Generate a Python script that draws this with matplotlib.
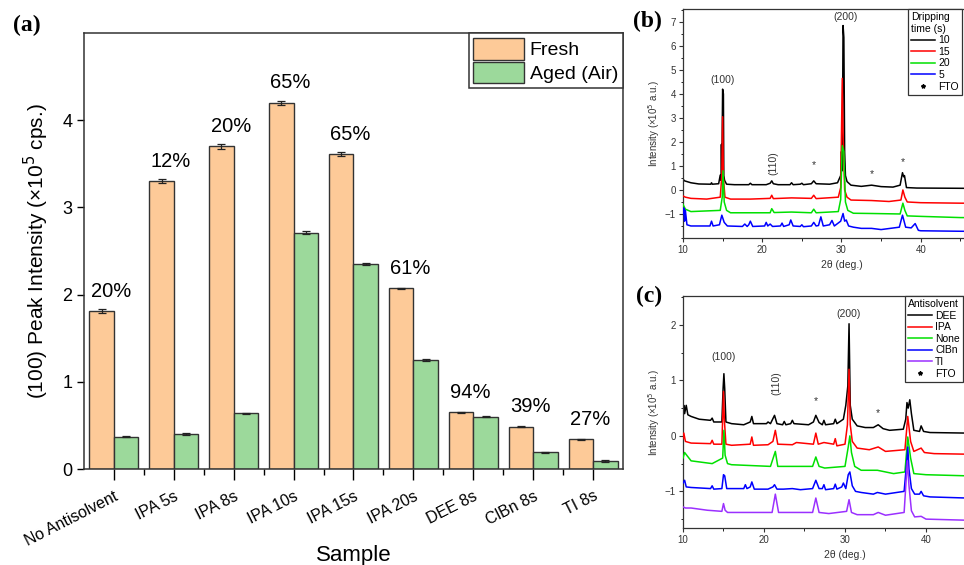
#!/usr/bin/env python3
import matplotlib
matplotlib.use('Agg')
import matplotlib.pyplot as plt
import numpy as np
from matplotlib.lines import Line2D
from matplotlib.ticker import MultipleLocator

plt.rcParams['font.family'] = ['Liberation Sans', 'DejaVu Sans']

# %%
# panel (a) data
samples = ['No Antisolvent', 'IPA 5s', 'IPA 8s', 'IPA 10s', 'IPA 15s',
           'IPA 20s', 'DEE 8s', 'ClBn 8s', 'TI 8s']
fresh = [1.81, 3.30, 3.70, 4.20, 3.61, 2.07, 0.65, 0.485, 0.34]
aged = [0.37, 0.40, 0.64, 2.71, 2.35, 1.25, 0.60, 0.19, 0.09]
fresh_err = [0.02, 0.025, 0.025, 0.025, 0.025, 0.01, 0.006, 0.008, 0.008]
aged_err = [0.008, 0.008, 0.006, 0.015, 0.015, 0.01, 0.006, 0.004, 0.008]
retention = ['20%', '12%', '20%', '65%', '65%', '61%', '94%', '39%', '27%']

# panel (b) data: dripping time
b_10_x = [10.0, 10.2, 11, 12, 13.5, 13.6, 13.7, 14.5, 14.7, 14.8, 14.85, 14.9, 15.0, 15.1, 15.15, 15.25, 15.5, 16.5,
          18.3, 18.5, 18.7, 20.5, 21.0, 21.2, 21.4, 22, 23.5, 23.7, 23.9, 24.8, 25, 25.2, 26.2, 26.5, 26.8, 28.5,
          29.5, 29.9, 30.0, 30.1, 30.2, 30.3, 30.4, 30.5, 30.7, 31.2, 32.5, 33.8, 35, 36.5, 37.4, 37.6, 37.7,
          37.85, 37.95, 38.2, 39.5, 45, 50]
b_10_y = [0.45, 0.38, 0.3, 0.25, 0.24, 0.3, 0.24, 0.26, 0.62, 0.4, 1.9, 0.6, 4.2, 4.0, 0.6, 0.4, 0.24, 0.22,
          0.22, 0.28, 0.22, 0.22, 0.28, 0.38, 0.26, 0.22, 0.22, 0.3, 0.22, 0.24, 0.28, 0.22, 0.26, 0.38, 0.26, 0.24,
          0.3, 0.6, 1.6, 0.8, 6.85, 6.35, 1.6, 0.6, 0.35, 0.2, 0.15, 0.2, 0.14, 0.12, 0.2, 0.55, 0.72,
          0.55, 0.6, 0.1, 0.08, 0.07, 0.06]
b_15_x = [10, 10.3, 11, 13, 14.7, 14.9, 15.0, 15.1, 15.3, 16, 18.5, 21.0, 21.2, 21.4, 23.7, 26.2, 26.5, 26.8,
          29.6, 29.9, 30.1, 30.2, 30.4, 30.7, 31.2, 33.8, 36, 37.5, 37.75, 38.0, 38.3, 40, 45, 50]
b_15_y = [-0.25, -0.3, -0.35, -0.38, -0.3, 0.6, 3.05, 0.5, -0.3, -0.38, -0.38, -0.35, -0.22, -0.36, -0.33, -0.35,
          -0.22, -0.36, -0.3, 0.1, 4.65, 2.4, 0.0, -0.3, -0.42, -0.44, -0.48, -0.42, 0.0, -0.3, -0.5, -0.53, -0.55, -0.56]
b_20_x = [10, 10.3, 11, 14.7, 14.95, 15.05, 15.2, 15.5, 16, 21.0, 21.2, 21.5, 23.7, 26.2, 26.5, 26.8, 29.6, 29.9,
          30.1, 30.3, 30.5, 30.8, 31.5, 33.8, 37.4, 37.75, 38.0, 38.3, 40, 45, 50]
b_20_y = [-0.6, -0.8, -0.9, -0.85, -0.3, 0.8, -0.5, -0.85, -0.95, -0.95, -0.78, -0.94, -0.92, -0.95, -0.8, -0.95,
          -0.9, -0.4, 1.85, 1.6, -0.5, -0.85, -0.97, -0.98, -1.0, -0.55, -0.85, -1.08, -1.1, -1.15, -1.16]
b_5_x = [10, 10.1, 10.2, 10.3, 10.5, 11, 13.4, 13.6, 13.8, 14.6, 14.9, 15.2, 15.6, 17.5, 17.8, 18.1, 18.3, 18.5,
         18.8, 20.3, 20.5, 20.7, 21.0, 21.3, 22.3, 22.5, 22.7, 23.4, 23.6, 23.9, 24.8, 25, 25.2, 26.2, 26.5, 26.8,
         27.1, 27.4, 27.7, 28.5, 28.8, 29.1, 29.9, 30.2, 30.4, 30.6, 30.9, 31.5, 32.5, 33.8, 35, 37.3, 37.7, 38.1,
         38.8, 39.3, 39.7, 40, 45, 50]
b_5_y = [-1.0, -0.75, -1.3, -0.85, -1.45, -1.5, -1.5, -1.3, -1.5, -1.45, -1.05, -1.35, -1.5, -1.52, -1.42, -1.52,
         -1.45, -1.3, -1.52, -1.5, -1.35, -1.5, -1.42, -1.52, -1.5, -1.38, -1.52, -1.45, -1.25, -1.5, -1.52, -1.45,
         -1.53, -1.5, -1.35, -1.5, -1.48, -1.12, -1.5, -1.45, -1.27, -1.5, -1.3, -0.98, -1.3, -1.25, -1.5, -1.55,
         -1.6, -1.6, -1.65, -1.55, -1.05, -1.55, -1.58, -1.4, -1.68, -1.7, -1.72, -1.73]

# panel (c) data: antisolvent
c_dee_x = [10, 10.1, 10.2, 10.4, 10.6, 11, 12, 13.4, 13.6, 13.8, 14.8, 14.95, 15.05, 15.15, 15.3, 16, 17.5, 18.3,
           18.5, 18.7, 20.3, 20.5, 20.8, 21.3, 21.6, 22.3, 22.5, 22.7, 23.3, 23.5, 23.7, 25.5, 26.1, 26.4, 26.8,
           27.2, 27.4, 27.6, 28.6, 28.8, 29.0, 29.8, 30.1, 30.35, 30.5, 30.65, 30.9, 31.5, 32.5, 33.5, 34.1, 34.7,
           35.5, 37.2, 37.5, 37.65, 37.8, 38.0, 38.2, 38.5, 39.2, 39.4, 39.7, 40.5, 45, 50]
c_dee_y = [0.35, 0.55, 0.4, 0.55, 0.38, 0.35, 0.3, 0.28, 0.32, 0.25, 0.25, 0.85, 1.12, 0.85, 0.25, 0.22, 0.2, 0.25,
           0.35, 0.22, 0.22, 0.25, 0.22, 0.37, 0.22, 0.2, 0.26, 0.2, 0.22, 0.28, 0.22, 0.2, 0.25, 0.37, 0.24,
           0.2, 0.28, 0.2, 0.22, 0.3, 0.22, 0.3, 0.55, 0.9, 2.02, 0.55, 0.3, 0.18, 0.15, 0.15, 0.2, 0.13,
           0.1, 0.12, 0.3, 0.6, 0.5, 0.65, 0.4, 0.1, 0.08, 0.18, 0.08, 0.06, 0.05, 0.04]
c_ipa_x = [10, 10.1, 10.3, 11, 13.4, 13.6, 13.8, 14.8, 15.0, 15.1, 15.3, 16, 18.3, 18.5, 18.7, 20.5, 21.1, 21.4,
           21.7, 23.5, 24, 26.1, 26.4, 26.7, 27.4, 28.6, 28.8, 29.0, 30.0, 30.3, 30.5, 30.65, 30.9, 31.5, 33, 34.1,
           35, 37.4, 37.75, 38.1, 38.5, 39.4, 39.8, 41, 45, 50]
c_ipa_y = [-0.05, 0.05, -0.1, -0.13, -0.14, -0.08, -0.15, -0.15, 0.8, 0.3, -0.15, -0.17, -0.15, -0.02, -0.17,
           -0.16, -0.1, 0.1, -0.15, -0.16, -0.12, -0.15, 0.05, -0.15, -0.12, -0.15, -0.05, -0.18, -0.15, 0.2, 1.2,
           0.2, -0.1, -0.22, -0.25, -0.2, -0.28, -0.25, 0.35, -0.1, -0.28, -0.22, -0.3, -0.32, -0.33, -0.34]
c_none_x = [10, 10.2, 11, 13.6, 14.9, 15.05, 15.2, 15.5, 16, 20.8, 21.4, 21.7, 23.5, 26.0, 26.4, 26.8, 27.5, 30.0,
            30.4, 30.6, 30.8, 31.2, 32, 34, 36, 37.4, 37.75, 38.1, 38.5, 40, 45, 50]
c_none_y = [-0.4, -0.3, -0.45, -0.5, -0.4, 0.1, -0.35, -0.5, -0.52, -0.55, -0.28, -0.55, -0.55, -0.55, -0.38,
            -0.55, -0.58, -0.55, -0.2, 0.0, -0.3, -0.55, -0.62, -0.62, -0.68, -0.65, -0.02, -0.4, -0.68, -0.7,
            -0.72, -0.73]
c_clbn_x = [10, 10.2, 10.4, 11, 13.4, 13.6, 13.8, 14.8, 15.0, 15.15, 15.4, 17.5, 17.7, 17.9, 18.3, 18.5, 18.8,
            20.5, 21.1, 21.3, 21.6, 22.4, 23.5, 24.5, 26.0, 26.4, 26.8, 27.2, 27.4, 27.6, 28.6, 28.8, 29.0, 29.6,
            29.8, 30.1, 30.4, 30.6, 30.9, 31.3, 32, 33.5, 34, 35, 37.3, 37.6, 37.75, 37.9, 38.2, 38.6, 39.2, 39.4,
            39.7, 40.5, 45, 50]
c_clbn_y = [-0.85, -0.8, -0.92, -0.93, -0.95, -0.9, -0.96, -0.95, -0.7, -0.72, -0.95, -0.95, -0.88, -0.95, -0.92,
            -0.83, -0.96, -0.96, -0.92, -0.88, -0.96, -0.96, -0.95, -0.97, -0.95, -0.8, -0.95, -0.95, -0.88, -0.97,
            -0.95, -0.87, -0.96, -0.92, -0.85, -0.95, -0.7, -0.65, -0.9, -1.0, -1.02, -1.05, -1.02, -1.05, -1.0,
            -0.5, -0.2, -0.6, -0.95, -1.05, -1.05, -1.0, -1.08, -1.1, -1.12, -1.13]
c_ti_x = [10, 10.3, 11, 13, 14.8, 15.0, 15.2, 15.5, 18, 21.0, 21.4, 21.8, 23, 26.0, 26.4, 26.8, 28, 30.2, 30.5,
          30.8, 31.5, 33.5, 34.1, 35, 37.3, 37.7, 37.9, 38.2, 38.6, 39.4, 40, 45, 50]
c_ti_y = [-1.28, -1.3, -1.3, -1.34, -1.36, -1.22, -1.34, -1.38, -1.38, -1.38, -1.05, -1.38, -1.38, -1.38, -1.12,
          -1.38, -1.4, -1.36, -1.15, -1.38, -1.42, -1.42, -1.38, -1.43, -1.38, -0.45, -0.9, -1.35, -1.46, -1.45,
          -1.5, -1.52, -1.53]

# %%
fig = plt.figure(figsize=(9.64, 5.65), dpi=100)

# ---- (a) bar chart
ax = fig.add_axes([0.0871, 0.1699, 0.5592, 0.7717])
x = np.arange(len(samples))
w = 0.41
ekw = dict(ecolor='#222222', elinewidth=0.9, capsize=3, capthick=0.9)
ax.bar(x - w / 2, fresh, w, yerr=fresh_err, color='#FDCA98', edgecolor='#333333', linewidth=1.0,
       label='Fresh', error_kw=ekw)
ax.bar(x + w / 2, aged, w, yerr=aged_err, color='#9CD99B', edgecolor='#333333', linewidth=1.0,
       label='Aged (Air)', error_kw=ekw)
for i, txt in enumerate(retention):
    ax.text(x[i] - 0.05, fresh[i] + 0.23, txt, ha='center', va='center', fontsize=14.5)
ax.set_xlim(-0.5, len(samples) - 0.5)
ax.set_ylim(0, 5.0)
ax.set_yticks([0, 1, 2, 3, 4])
ax.set_xticks(x)
ax.set_xticks(x[:-1] + 0.5, minor=True)
ax.set_xticklabels(samples, rotation=27, ha='right', rotation_mode='anchor', fontsize=11.5)
ax.tick_params(axis='x', which='major', length=8, width=1, direction='out', pad=6)
ax.tick_params(axis='x', which='minor', length=4, width=1, direction='out')
ax.tick_params(axis='y', length=5, width=1, direction='out', labelsize=13)
for s in ax.spines.values():
    s.set_linewidth(1.1)
    s.set_color('#333333')
ax.set_xlabel('Sample', fontsize=16, labelpad=-2)
ax.set_ylabel('(100) Peak Intensity (×10$^5$ cps.)', fontsize=15, labelpad=8)
leg = ax.legend(loc='upper right', borderaxespad=0, fontsize=14, handlelength=2.6, handleheight=1.35,
                handletextpad=0.3, labelspacing=0.1, borderpad=0.25, fancybox=False, edgecolor='#333333',
                framealpha=1)
leg.get_frame().set_linewidth(1.1)
fig.text(0.013, 0.955, '(a)', fontsize=17, fontweight='bold', family='Liberation Serif', va='center')


# ---- (b) and (c) XRD patterns
def xrd_axes(rect, ylim, yticks):
    a = fig.add_axes(rect)
    a.set_xlim(10, 50)
    a.set_ylim(*ylim)
    a.set_xticks([10, 20, 30, 40])
    a.xaxis.set_minor_locator(MultipleLocator(5))
    a.set_yticks(yticks)
    a.yaxis.set_minor_locator(MultipleLocator(0.5))
    a.tick_params(which='major', length=3, width=0.8, labelsize=7, colors='#333333', pad=2)
    a.tick_params(which='minor', length=1.8, width=0.6)
    for s in a.spines.values():
        s.set_linewidth(0.9)
        s.set_color('#333333')
    a.set_xlabel('2θ (deg.)', fontsize=7.5, color='#333333', labelpad=4)
    a.set_ylabel('Intensity (×10$^5$ a.u.)', fontsize=7, color='#333333', labelpad=2)
    return a


def xrd_legend(a, handles, labels, title, anchor_x):
    lg = a.legend(handles, labels, title=title, loc='upper left', bbox_to_anchor=(anchor_x, 1.0),
                  borderaxespad=0, fontsize=7.5, title_fontsize=7.5, handlelength=2.3, handletextpad=0.3,
                  labelspacing=0.15, borderpad=0.3, fancybox=False, edgecolor='#333333', framealpha=1)
    lg.get_frame().set_linewidth(0.9)
    lg._legend_box.align = 'left'
    return lg


star = Line2D([], [], color='k', marker='*', markersize=3, linestyle='none')

axb = xrd_axes([0.7085, 0.5788, 0.3288, 0.4053], (-2.0, 7.54), list(range(-1, 8)))
b_series = [(b_10_x, b_10_y, 'k', '10'), (b_15_x, b_15_y, '#FF0000', '15'),
            (b_20_x, b_20_y, '#00E000', '20'), (b_5_x, b_5_y, '#0000FF', '5')]
hb = []
for xs, ys, col, lab in b_series:
    hb += axb.plot(xs, ys, color=col, lw=1.1)
for line in hb[1:]:
    line.set_zorder(3)
xrd_legend(axb, hb + [star], [s[3] for s in b_series] + ['FTO'], 'Dripping\ntime (s)', 0.71)
axb.text(15.0, 4.58, '(100)', ha='center', va='center', fontsize=7.5, color='#333333')
axb.text(21.4, 1.1, '(110)', ha='center', va='center', fontsize=7.5, color='#333333', rotation=90)
axb.text(30.5, 7.2, '(200)', ha='center', va='center', fontsize=7.5, color='#333333')
for sx, sy in [(26.5, 1.05), (33.8, 0.68), (37.7, 1.15)]:
    axb.text(sx, sy, '*', ha='center', va='center', fontsize=7.5, color='#333333')
fig.text(0.657, 0.962, '(b)', fontsize=17, fontweight='bold', family='Liberation Serif', va='center')

axc = xrd_axes([0.7085, 0.0655, 0.3361, 0.4106], (-1.66, 2.52), [-1, 0, 1, 2])
c_series = [(c_dee_x, c_dee_y, 'k', 'DEE'), (c_ipa_x, c_ipa_y, '#FF0000', 'IPA'),
            (c_none_x, c_none_y, '#00E000', 'None'), (c_clbn_x, c_clbn_y, '#0000FF', 'ClBn'),
            (c_ti_x, c_ti_y, '#9B30FF', 'TI')]
hc = []
for xs, ys, col, lab in c_series:
    hc += axc.plot(xs, ys, color=col, lw=1.1)
for line in hc[1:]:
    line.set_zorder(3)
xrd_legend(axc, hc + [star], [s[3] for s in c_series] + ['FTO'], 'Antisolvent', 0.685)
axc.text(15.0, 1.42, '(100)', ha='center', va='center', fontsize=7.5, color='#333333')
axc.text(21.5, 0.95, '(110)', ha='center', va='center', fontsize=7.5, color='#333333', rotation=90)
axc.text(30.4, 2.2, '(200)', ha='center', va='center', fontsize=7.5, color='#333333')
for sx, sy in [(26.4, 0.62), (34.1, 0.41)]:
    axc.text(sx, sy, '*', ha='center', va='center', fontsize=7.5, color='#333333')
fig.text(0.66, 0.475, '(c)', fontsize=17, fontweight='bold', family='Liberation Serif', va='center')

plt.savefig('out.png', dpi=100)
plt.close()
